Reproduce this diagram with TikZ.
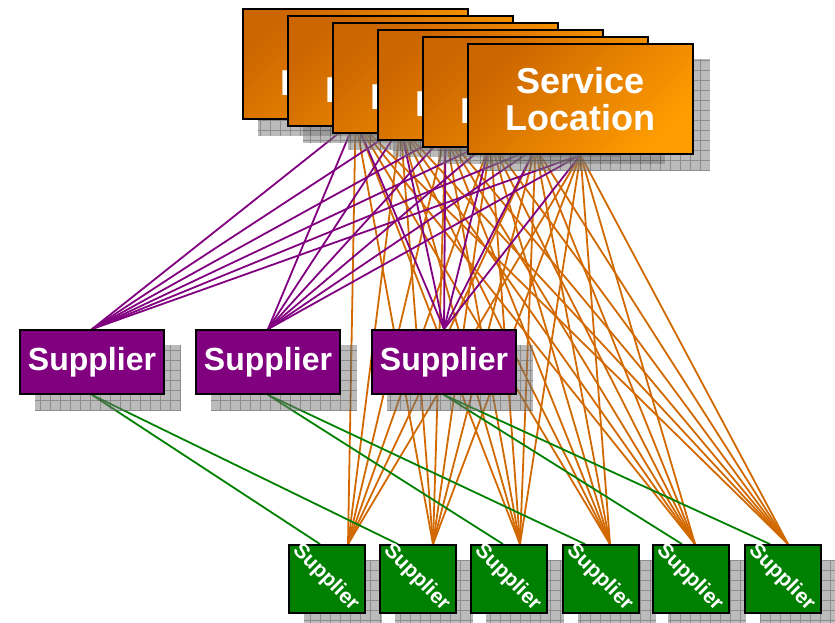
\documentclass[tikz,border=0pt]{standalone}
\usepackage{fontspec}
\setmainfont{Liberation Sans}
\usetikzlibrary{calc}

\pgfdeclarelayer{wires}
\pgfdeclarelayer{shades}
\pgfsetlayers{wires,shades,main}

\definecolor{locdark}{RGB}{204,102,0}
\definecolor{loclight}{RGB}{255,156,0}
\definecolor{purplebox}{RGB}{128,0,128}
\definecolor{greenbox}{RGB}{0,128,0}
\definecolor{orangewire}{RGB}{210,105,0}
\definecolor{shadowbase}{RGB}{120,120,120}
\definecolor{shadowline}{RGB}{70,70,70}

\tikzset{
  locbox/.style={draw=black, line width=1.8pt, minimum width=225pt, minimum height=110pt,
    inner sep=0pt, top color=locdark, bottom color=loclight, shading angle=45,
    text=white, align=center, font=\bfseries\fontsize{36}{37}\selectfont},
  tierbox/.style={draw=black, line width=1.8pt, fill=purplebox, minimum width=144pt,
    minimum height=64pt, inner sep=0pt, text=white, font=\bfseries\fontsize{32}{36}\selectfont},
  leafbox/.style={draw=black, line width=1.8pt, fill=greenbox, minimum width=76pt,
    minimum height=68pt, inner sep=0pt,
    label={[rotate=-45, inner sep=0pt, text=white, xshift=-2pt,
            font=\bfseries\fontsize{21}{23}\selectfont]center:Supplier}},
  wire/.style={line width=1.8pt},
  locwire/.style={wire, draw=orangewire},
  tierwire/.style={wire, draw=purplebox},
  leafwire/.style={wire, draw=greenbox},
}

% hatched drop shadow behind a named box, offset 16 right and 16 down
\newcommand\gridshadow[1]{%
  \begin{scope}
    \path[clip] ($(#1.north west)+(16,16)$) rectangle ($(#1.south east)+(16,16)$);
    \fill[shadowbase, fill opacity=0.5] ($(#1.north west)+(16,16)$) rectangle ($(#1.south east)+(16,16)$);
    \draw[shadowline, draw opacity=0.4, line width=0.8pt, step=10pt]
      ($(#1.north west)+(0,0)$) grid ($(#1.south east)+(40,40)$);
  \end{scope}}

\begin{document}
\begin{tikzpicture}[x=1pt, y=-1pt]
\useasboundingbox (0,0) rectangle (835,622);

% stacked service locations, back to front
\foreach \k in {0,...,5} {
  \pgfmathsetmacro\cx{355.5+45*\k}
  \pgfmathsetmacro\cy{64+7*\k}
  \node[locbox] (loc\k) at (\cx,\cy) {Service\\Location};
}

% middle tier suppliers
\node[tierbox] (tier1) at (92,362)  {Supplier};
\node[tierbox] (tier2) at (268,362) {Supplier};
\node[tierbox] (tier3) at (444,362) {Supplier};

% bottom tier suppliers, label written diagonally
\foreach \i/\x in {1/327,2/418,3/509,4/601,5/691,6/783}
  \node[leafbox] (leaf\i) at (\x,579) {};

% shadows
\begin{pgfonlayer}{shades}
  \foreach \n in {loc0,loc1,loc2,loc3,loc4,loc5,tier1,tier2,tier3,leaf1,leaf2,leaf3,leaf4,leaf5,leaf6}
    \gridshadow{\n};
\end{pgfonlayer}

% connectors
\begin{pgfonlayer}{wires}
  \foreach \k in {0,...,5} {
    \foreach \i/\o in {1/21,2/15,3/11,4/9,5/4,6/5}
      \draw[locwire] (loc\k.south) -- ([xshift=\o pt]leaf\i.north);
  }
  \foreach \k in {0,...,5} {
    \foreach \t in {1,2,3}
      \draw[tierwire] (loc\k.south) -- (tier\t.north);
  }
  \foreach \t/\i/\o in {1/1/-7,1/2/-20,2/3/-6,2/4/-16,3/5/-9,3/6/-13}
    \draw[leafwire] (tier\t.south) -- ([xshift=\o pt]leaf\i.north);
\end{pgfonlayer}
\end{tikzpicture}
\end{document}
